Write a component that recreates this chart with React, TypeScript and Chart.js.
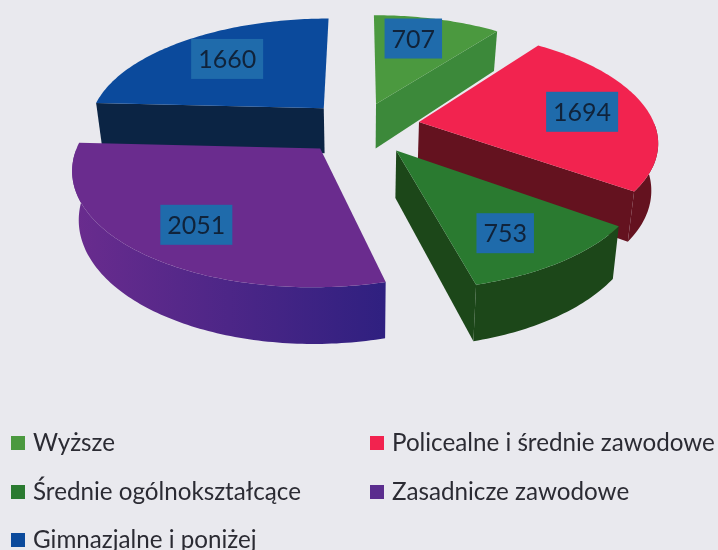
import React, { useEffect, useRef } from "react";
import { Chart, registerables } from "chart.js";

Chart.register(...registerables);

const categories = [
  "Wyższe",
  "Policealne i średnie zawodowe",
  "Średnie ogólnokształcące",
  "Zasadnicze zawodowe",
  "Gimnazjalne i poniżej",
];
const values = [707, 1694, 753, 2051, 1660];
const explode = [52, 60, 62, 61, 54];
const topColors = ["#4b993f", "#f2234f", "#2a7a30", "#6a2c8e", "#0b4a9c"];
const sideStart = ["#3c893a", "#64121f", "#1c4719", "#6a2c8e", "#0b2444"];
const sideEnd = ["#3c893a", "#64121f", "#1c4719", "#2f2080", "#0b2444"];
const legendColors = ["#4b993f", "#f2234f", "#2a7a30", "#5b2d8e", "#0b4a9c"];
const labelShiftX = [-8, 2, -3, 0, 5];
const labelShiftY = [-3, 1, 7, 6, 0];

const BG = "#e9e9ee";
const TILT = 0.462;
const VIEW = 1503;
const DEPTH = 46;
const RADIUS = 236;
const LABEL_R = 0.71;

const project = (cx: number, cy: number, X: number, Y: number, z = 0) => {
  const w = VIEW / (VIEW - Y);
  return [cx + X * w * (1 - 0.0005 * z), cy + TILT * Y * w + z * w];
};

const pie3d = {
  id: "pie3d",
  beforeDatasetsDraw(chart: any) {
    const ctx = chart.ctx as CanvasRenderingContext2D;
    const arcs = chart.getDatasetMeta(0).data as any[];
    const items = arcs.map((arc, i) => {
      const p = arc.getProps(["x", "y", "startAngle", "endAngle", "outerRadius"], true);
      const mid = (p.startAngle + p.endAngle) / 2;
      const off = arc.options.offset;
      const ox = Math.cos(mid) * off;
      const oy = Math.sin(mid) * off;
      const steps = Math.max(8, Math.ceil(((p.endAngle - p.startAngle) * 180) / Math.PI));
      const rim: number[][] = [];
      const front: number[][] = [];
      for (let s = 0; s <= steps; s++) {
        const a = p.startAngle + ((p.endAngle - p.startAngle) * s) / steps;
        const q = [ox + Math.cos(a) * p.outerRadius, oy + Math.sin(a) * p.outerRadius];
        rim.push(q);
        if (Math.sin(a) >= 0) front.push(q);
      }
      return { i, p, mid, ox, oy, rim, front, arc };
    });
    const order = [...items].sort((a, b) => a.oy + Math.sin(a.mid) * 100 - (b.oy + Math.sin(b.mid) * 100));

    const poly = (pts: number[][], fill: any) => {
      ctx.beginPath();
      pts.forEach((q, n) => (n ? ctx.lineTo(q[0], q[1]) : ctx.moveTo(q[0], q[1])));
      ctx.closePath();
      ctx.fillStyle = fill;
      ctx.fill();
    };

    for (const it of order) {
      const { p, ox, oy, rim, front, i } = it;
      const P = (q: number[], z = 0) => project(p.x, p.y, q[0], q[1], z);
      const apex = [ox, oy];
      const xs = rim.map((q) => P(q)[0]).concat(P(apex)[0]);
      const grad = ctx.createLinearGradient(Math.min(...xs), 0, Math.max(...xs), 0);
      grad.addColorStop(0, sideStart[i]);
      grad.addColorStop(1, sideEnd[i]);
      const wall = (a: number[], b: number[]) =>
        poly([P(a), P(b), P(b, DEPTH), P(a, DEPTH)], grad);
      // only the faces turned towards the viewer are drawn
      if (-Math.cos(p.startAngle) > 1e-6) wall(apex, rim[0]);
      if (Math.cos(p.endAngle) > 1e-6) wall(apex, rim[rim.length - 1]);
      if (front.length > 1) {
        poly(
          [...front.map((q) => P(q)), ...[...front].reverse().map((q) => P(q, DEPTH))],
          grad
        );
      }
      poly([P(apex), ...rim.map((q) => P(q))], it.arc.options.backgroundColor);
    }

    ctx.font = "25px Lato";
    ctx.textAlign = "center";
    ctx.textBaseline = "middle";
    for (const it of items) {
      const { p, ox, oy, mid, i } = it;
      const r = p.outerRadius * LABEL_R;
      const [bx, by] = project(p.x, p.y, ox + Math.cos(mid) * r, oy + Math.sin(mid) * r);
      const lx = bx + labelShiftX[i];
      const ly = by + labelShiftY[i];
      const text = String(values[i]);
      const tw = ctx.measureText(text).width;
      ctx.fillStyle = "#1f6bab";
      ctx.fillRect(lx - tw / 2 - 7, ly - 20, tw + 14, 40);
      ctx.fillStyle = "#10233a";
      ctx.fillText(text, lx, ly + 1);
    }
    return false;
  },
  afterDraw(chart: any) {
    const ctx = chart.ctx as CanvasRenderingContext2D;
    const cols = [11, 370];
    const rows = [443, 492, 540];
    ctx.font = "24.2px Lato";
    ctx.textAlign = "left";
    ctx.textBaseline = "middle";
    chart.data.labels.forEach((label: string, i: number) => {
      const x = cols[i % 2];
      const y = rows[Math.floor(i / 2)];
      ctx.fillStyle = legendColors[i];
      ctx.fillRect(x, y - 7, 14, 14);
      ctx.fillStyle = "#2b2b33";
      ctx.fillText(label, x + 22, y);
    });
  },
};

export default function App() {
  const ref = useRef<HTMLCanvasElement>(null);
  useEffect(() => {
    const chart = new Chart(ref.current as HTMLCanvasElement, {
      type: "pie",
      data: {
        labels: categories,
        datasets: [
          {
            data: values,
            backgroundColor: topColors,
            offset: explode,
            borderWidth: 0,
          },
        ],
      },
      options: {
        responsive: false,
        animation: false,
        radius: RADIUS,
        layout: { padding: { left: 2, right: 0, top: 0, bottom: 298 } },
        plugins: { legend: { display: false }, tooltip: { enabled: false } },
      },
      plugins: [pie3d],
    } as any);
    return () => chart.destroy();
  }, []);
  return (
    <div style={{ position: "fixed", inset: 0, background: BG }}>
      <canvas ref={ref} width={718} height={550} style={{ display: "block", filter: "blur(0.5px)" }} />
    </div>
  );
}
